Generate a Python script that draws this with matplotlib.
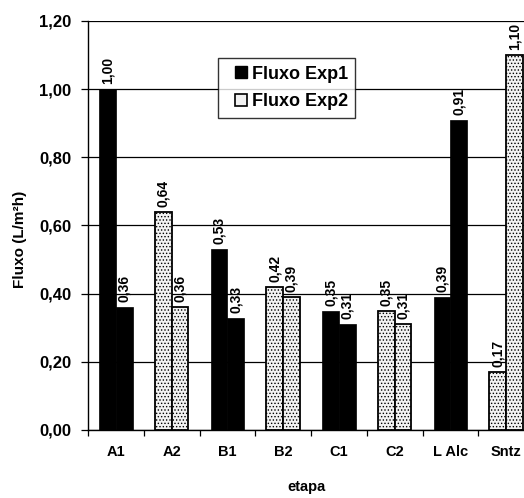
import matplotlib
matplotlib.use("Agg")
import matplotlib.pyplot as plt
import numpy as np
from matplotlib.lines import Line2D

plt.rcParams['font.family'] = ['Liberation Sans', 'DejaVu Sans']
plt.rcParams['font.weight'] = 'bold'
plt.rcParams['hatch.color'] = '#666666'
plt.rcParams['hatch.linewidth'] = 0.6

categories = ['A1', 'A2', 'B1', 'B2', 'C1', 'C2', 'L Alc', 'Sntz']
experiment = ['Fluxo Exp1', 'Fluxo Exp2', 'Fluxo Exp1', 'Fluxo Exp2',
              'Fluxo Exp1', 'Fluxo Exp2', 'Fluxo Exp1', 'Fluxo Exp2']
flux_first = [1.00, 0.64, 0.53, 0.42, 0.35, 0.35, 0.39, 0.17]
flux_second = [0.36, 0.36, 0.33, 0.39, 0.31, 0.31, 0.91, 1.10]
yticks = [0.0, 0.2, 0.4, 0.6, 0.8, 1.0, 1.2]

styles = {
    'Fluxo Exp1': dict(facecolor='black', edgecolor='black', linewidth=0.5, hatch=None),
    'Fluxo Exp2': dict(facecolor='#f2f2f2', edgecolor='black', linewidth=1.3, hatch='.....'),
}

fig = plt.figure(figsize=(5.24, 4.98), dpi=100)
W, H = 524, 498
ax = fig.add_axes([88 / W, 1 - 430 / H, (534 - 88) / W, (430 - 21) / H])

x = np.arange(len(categories))
bw = 0.3
for xi, exp, v1, v2 in zip(x, experiment, flux_first, flux_second):
    st = styles[exp]
    for pos, val in ((xi - bw / 2, v1), (xi + bw / 2, v2)):
        ax.bar(pos, val, width=bw, facecolor=st['facecolor'],
               edgecolor=st['edgecolor'], linewidth=st['linewidth'],
               hatch=st['hatch'], zorder=3)
        ax.annotate(f"{val:.2f}".replace('.', ','), (pos, val),
                    xytext=(0, 3.5), textcoords='offset points',
                    rotation=90, ha='center', va='bottom', fontsize=10,
                    zorder=4)

ax.set_xlim(-0.5, len(categories) - 0.5)
ax.set_ylim(0, 1.2)
ax.set_yticks(yticks)
ax.set_yticklabels([f"{t:.2f}".replace('.', ',') for t in yticks], fontsize=12)
ax.yaxis.grid(True, color='black', linewidth=0.9, zorder=0)
ax.set_axisbelow(True)

ax.set_xticks(x)
ax.set_xticklabels(categories, fontsize=10.5)
ax.tick_params(axis='x', which='major', length=0, pad=11)
ax.set_xticks(np.arange(len(categories) + 1) - 0.5, minor=True)
ax.tick_params(axis='x', which='minor', length=4, width=0.9, direction='out')
ax.tick_params(axis='y', length=5, width=0.9, direction='out', pad=7)

for side in ('top', 'right'):
    ax.spines[side].set_visible(False)
for side in ('left', 'bottom'):
    ax.spines[side].set_linewidth(1.0)

handles = [
    Line2D([], [], linestyle='none', marker='s', markersize=8.5,
           markerfacecolor='black', markeredgecolor='black', label='Fluxo Exp1'),
    Line2D([], [], linestyle='none', marker='s', markersize=8,
           markerfacecolor='#f2f2f2', markeredgecolor='black',
           markeredgewidth=1.2, label='Fluxo Exp2'),
]
leg = fig.legend(handles=handles, loc='upper left',
                 bbox_to_anchor=(218 / W, 1 - 58 / H), fontsize=13,
                 frameon=True, fancybox=False, edgecolor='black',
                 handlelength=1.7, handletextpad=-0.25,
                 borderpad=0.42, labelspacing=0.6, borderaxespad=0)
leg.get_frame().set_linewidth(1.0)

fig.text(20 / W, 1 - 239 / H, 'Fluxo (L/m²h)', rotation=90,
         ha='center', va='center', fontsize=11)
fig.text(307 / W, 1 - 487 / H, 'etapa', ha='center', va='center', fontsize=10.5)

fig.savefig('out.png', dpi=100)
